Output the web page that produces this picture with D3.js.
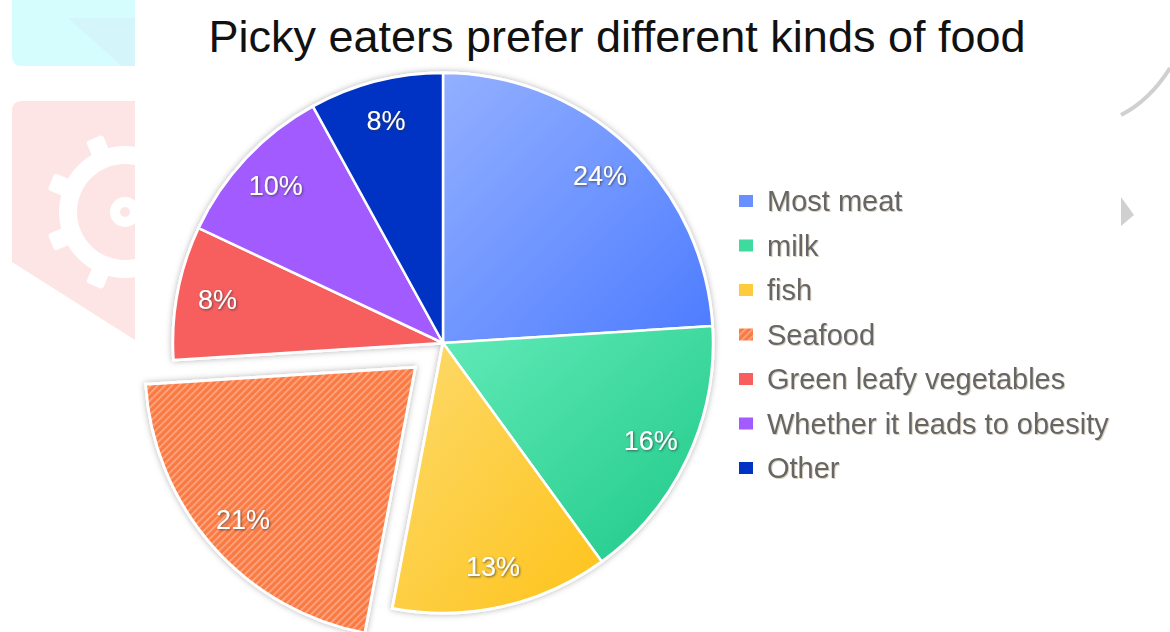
<!DOCTYPE html>
<html>
<head>
<meta charset="utf-8">
<script src="https://cdn.jsdelivr.net/npm/d3@7"></script>
<style>
  body { margin: 0; background: #fff; }
  svg { display: block; font-family: "Liberation Sans", Arial, sans-serif; }
  .slice-label { fill: #fff; font-size: 27px; }
  .legend-text { fill: #666; font-size: 29px; }
  .chart-title { fill: #111; font-size: 45px; }
</style>
</head>
<body>
<div id="chart"></div>
<script>
// Picky eaters pie chart

const width = 1170;
const height = 632;

// Data
const categories = ["Most meat", "milk", "fish", "Seafood", "Green leafy vegetables", "Whether it leads to obesity", "Other"];
const shares = [24, 16, 13, 21, 8, 10, 8];
const colors = ["#6a8fff", "#3fdb9e", "#fdcb3c", "#fb7c46", "#f75e5e", "#a25bfe", "#0033c4"];
const exploded = "Seafood";

const cx = 443, cy = 343, radius = 270;

const svg = d3.select("#chart")
  .append("svg")
  .attr("width", width)
  .attr("height", height);

const defs = svg.append("defs");

// gradients for the shaded slices
const grads = {
  "Most meat": ["#93b0ff", "#4c7bff"],
  "milk": ["#62eab8", "#1ec988"],
  "fish": ["#fdda6c", "#fec31a"]
};
Object.entries(grads).forEach(([k, c], i) => {
  const g = defs.append("linearGradient")
    .attr("id", "grad" + i)
    .attr("x1", 0).attr("y1", 0).attr("x2", 1).attr("y2", 1);
  g.append("stop").attr("offset", "0%").attr("stop-color", c[0]);
  g.append("stop").attr("offset", "100%").attr("stop-color", c[1]);
  grads[k] = "url(#grad" + i + ")";
});

// hatch pattern for seafood
const hatch = defs.append("pattern")
  .attr("id", "hatch")
  .attr("width", 5).attr("height", 5)
  .attr("patternUnits", "userSpaceOnUse")
  .attr("patternTransform", "rotate(45)");
hatch.append("rect").attr("width", 5).attr("height", 5).attr("fill", "#fb7a43");
hatch.append("rect").attr("width", 1.6).attr("height", 5).attr("fill", "#fdab86");

// shadows
const sh = defs.append("filter").attr("id", "halo")
  .attr("x", "-10%").attr("y", "-10%").attr("width", "120%").attr("height", "120%");
sh.append("feDropShadow").attr("dx", 0).attr("dy", 0)
  .attr("stdDeviation", 3).attr("flood-color", "#000").attr("flood-opacity", 0.3);

const ts = defs.append("filter").attr("id", "tshadow")
  .attr("x", "-20%").attr("y", "-30%").attr("width", "140%").attr("height", "160%");
ts.append("feDropShadow").attr("dx", 1).attr("dy", 1)
  .attr("stdDeviation", 0.8).attr("flood-color", "#333").attr("flood-opacity", 0.7);

const lts = defs.append("filter").attr("id", "lshadow");
lts.append("feDropShadow").attr("dx", 1).attr("dy", 1)
  .attr("stdDeviation", 0.6).attr("flood-color", "#b0a080").attr("flood-opacity", 0.5);

// background watermark bits
const bg = svg.append("g");
bg.append("path")
  .attr("d", "M12,0 H135 V66 H22 Q12,66 12,56 Z")
  .attr("fill", "#d6fdfd");
bg.append("path")
  .attr("d", "M68,18 H135 V66 H122 Z")
  .attr("fill", "#d4f6fb");
bg.append("path")
  .attr("d", "M22,101 H135 V340 L12,262 V111 Q12,101 22,101 Z")
  .attr("fill", "#fde5e5");
const gear = bg.append("g").attr("transform", "translate(125, 212)");
d3.range(8).forEach(i => {
  gear.append("rect")
    .attr("x", -9).attr("y", -80).attr("width", 18).attr("height", 20)
    .attr("rx", 3)
    .attr("transform", `rotate(${i * 45 + 22.5})`)
    .attr("fill", "#fff");
});
gear.append("circle").attr("r", 66).attr("fill", "#fff");
gear.append("circle").attr("r", 48).attr("fill", "#fde5e5");
gear.append("circle").attr("r", 15).attr("fill", "#fff");
gear.append("circle").attr("r", 5).attr("fill", "#fde5e5");
bg.append("rect").attr("x", 135).attr("y", 0).attr("width", 990).attr("height", height).attr("fill", "#fff");
bg.append("path")
  .attr("d", "M1121,115 Q1150,100 1170,68")
  .attr("fill", "none").attr("stroke", "#d0d0d0").attr("stroke-width", 4);
bg.append("path")
  .attr("d", "M1121,197 L1134,215 L1121,226 Z")
  .attr("fill", "#d0d0d0");

// Title
svg.append("text")
  .attr("class", "chart-title")
  .attr("x", 617)
  .attr("y", 52)
  .attr("text-anchor", "middle")
  .text("Picky eaters prefer different kinds of food");

// Pie
const pie = d3.pie().sort(null).value(d => d.value);
const arcs = pie(categories.map((c, i) => ({ name: c, value: shares[i], color: colors[i] })));

const arc = d3.arc().innerRadius(0).outerRadius(radius);
const labelArc = d3.arc().innerRadius(radius * 0.85).outerRadius(radius * 0.85);
const explode = 37;

const offset = d => {
  if (d.data.name !== exploded) return [0, 0];
  const a = (d.startAngle + d.endAngle) / 2;
  return [Math.sin(a) * explode, -Math.cos(a) * explode];
};

const fillOf = d => d.data.name === exploded ? "url(#hatch)" : (grads[d.data.name] || d.data.color);

const chart = svg.append("g")
  .attr("transform", `translate(${cx}, ${cy})`);

// halo behind the main pie and the exploded slice
const halo = chart.append("g").attr("filter", "url(#halo)");
halo.selectAll("path")
  .data(arcs)
  .enter()
  .append("path")
  .attr("transform", d => `translate(${offset(d)})`)
  .attr("d", arc)
  .attr("fill", "#fff")
  .attr("stroke", "#fff")
  .attr("stroke-width", 3);

chart.selectAll(".slice")
  .data(arcs)
  .enter()
  .append("path")
  .attr("class", "slice")
  .attr("transform", d => `translate(${offset(d)})`)
  .attr("d", arc)
  .attr("fill", fillOf)
  .attr("stroke", "#fff")
  .attr("stroke-width", 2.5)
  .attr("stroke-linejoin", "round");

chart.selectAll(".slice-label")
  .data(arcs)
  .enter()
  .append("text")
  .attr("class", "slice-label")
  .attr("filter", "url(#tshadow)")
  .attr("transform", d => {
    const p = labelArc.centroid(d);
    const o = offset(d);
    return `translate(${p[0] + o[0]}, ${p[1] + o[1]})`;
  })
  .attr("text-anchor", "middle")
  .attr("dy", "0.35em")
  .text(d => d.data.value + "%");

// Legend
const legend = svg.append("g")
  .attr("transform", "translate(739, 201)");

const rowGap = 44.5;
const rows = legend.selectAll(".legend-row")
  .data(arcs)
  .enter()
  .append("g")
  .attr("class", "legend-row")
  .attr("transform", (d, i) => `translate(0, ${i * rowGap})`);

rows.append("rect")
  .attr("x", 0)
  .attr("y", -6)
  .attr("width", 14)
  .attr("height", 12)
  .attr("fill", d => d.data.name === exploded ? "url(#hatch)" : d.data.color);

rows.append("text")
  .attr("class", "legend-text")
  .attr("filter", "url(#lshadow)")
  .attr("x", 28)
  .attr("dy", "0.35em")
  .text(d => d.data.name);
</script>
</body>
</html>
